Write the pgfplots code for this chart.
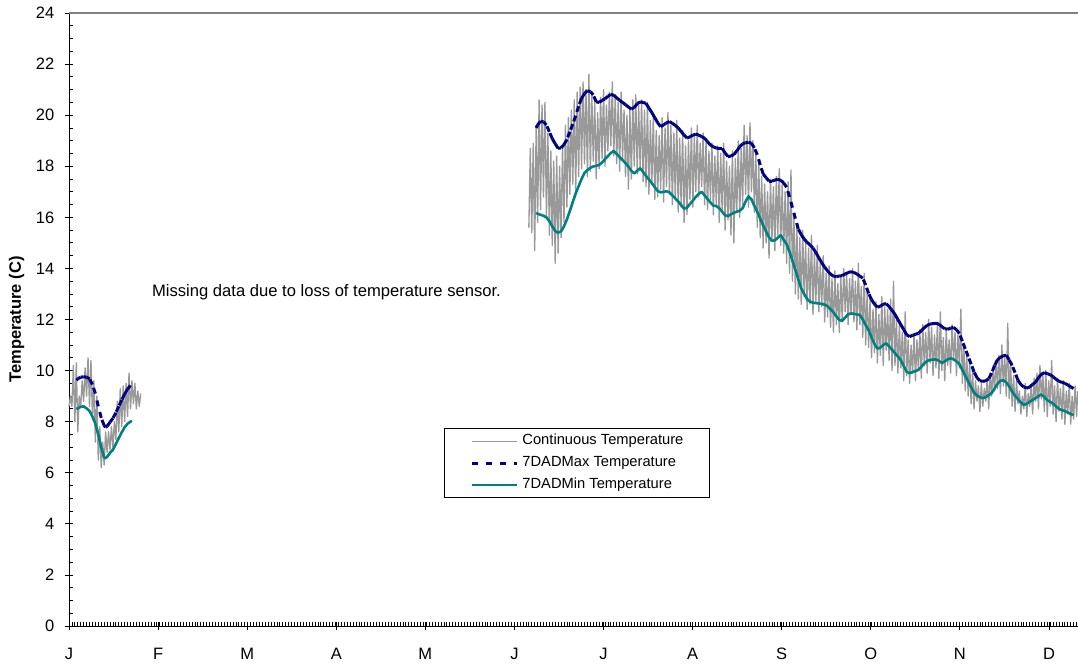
\documentclass[border=0pt]{standalone}
\usepackage{pgfplots}
\usepackage{pgfplotstable}
\pgfplotsset{compat=1.18}
\usepackage{fontspec}
\setmainfont{Liberation Sans}
\definecolor{grayc}{RGB}{153,153,153}
\definecolor{navyc}{RGB}{0,0,128}
\definecolor{tealc}{RGB}{0,128,128}
\definecolor{borderc}{RGB}{128,128,128}

\newcommand{\segcols}[1]{%
  \pgfplotstablecreatecol[create col/assign/.code={%
    \ifnum\pgfplotstablerow=0 \def\entry{0}%
    \else\getprevrow{x}{\pa}\getthisrow{x}{\pb}\pgfmathsetmacro\entry{\pa-\pb}\fi
    \pgfkeyslet{/pgfplots/table/create col/next content}\entry}]{u}{#1}%
  \pgfplotstablecreatecol[create col/assign/.code={%
    \ifnum\pgfplotstablerow=0 \def\entry{0}%
    \else\getprevrow{y}{\pa}\getthisrow{y}{\pb}\pgfmathsetmacro\entry{\pa-\pb}\fi
    \pgfkeyslet{/pgfplots/table/create col/next content}\entry}]{v}{#1}%
}

\pgfplotstableread{
x y
2.5 9.63
3 9.68
4 9.74
5 9.76
6 9.74
7 9.68
8 9.45
9 9.10
10 8.60
11 8.15
12 7.85
12.5 7.78
13 7.82
14 7.98
15 8.13
16 8.35
17 8.60
18 8.85
19 9.08
20 9.28
21 9.42
}\navyA

\pgfplotstableread{
x y
2.5 8.50
3 8.52
4 8.58
5 8.60
6 8.52
7 8.42
8 8.20
9 7.92
10 7.50
11 7.00
12 6.60
12.5 6.57
13 6.62
14 6.78
15 6.90
16 7.12
17 7.36
18 7.58
19 7.78
20 7.92
21 8.00
21.5 8.03
}\tealA

\pgfplotstableread{
x y
159.5 19.50
160 19.62
161 19.76
162 19.74
163 19.62
164 19.35
165 19.08
166 18.88
167 18.70
168 18.72
169 18.85
170 19.05
171 19.35
172 19.65
173 19.98
174 20.35
175 20.66
176 20.85
177 20.96
178 20.92
179 20.80
180 20.52
181 20.50
182 20.58
183 20.64
184 20.74
185 20.81
186 20.78
187 20.68
188 20.58
189 20.50
190 20.41
191 20.32
192 20.24
193 20.30
194 20.45
195 20.52
196 20.50
197 20.46
198 20.28
199 20.10
200 19.90
201 19.70
202 19.55
203 19.62
204 19.70
205 19.75
206 19.68
207 19.60
208 19.50
209 19.36
210 19.22
211 19.10
212 19.15
213 19.22
214 19.26
215 19.22
216 19.16
217 19.10
218 18.96
219 18.83
220 18.76
221 18.71
222 18.70
223 18.70
224 18.52
225 18.38
226 18.40
227 18.46
228 18.60
229 18.76
230 18.88
231 18.92
232 18.94
233 18.90
234 18.72
235 18.45
236 18.05
237 17.70
238 17.55
239 17.42
240 17.42
241 17.46
242 17.49
243 17.45
244 17.35
245 17.18
246 16.80
247 16.38
248 15.95
249 15.55
250 15.32
251 15.15
252 15.02
253 14.92
254 14.80
255 14.62
256 14.42
257 14.22
258 14.05
259 13.90
260 13.78
261 13.69
262 13.68
263 13.70
264 13.72
265 13.78
266 13.84
267 13.87
268 13.84
269 13.78
270 13.70
271 13.62
272 13.35
273 13.02
274 12.78
275 12.60
276 12.48
277 12.52
278 12.60
279 12.62
280 12.50
281 12.36
282 12.20
283 12.00
284 11.80
285 11.60
286 11.40
287 11.33
288 11.38
289 11.42
290 11.46
291 11.56
292 11.68
293 11.77
294 11.82
295 11.84
296 11.85
297 11.82
298 11.72
299 11.64
300 11.62
301 11.66
302 11.69
303 11.60
304 11.45
305 11.15
306 10.85
307 10.55
308 10.25
309 9.95
310 9.72
311 9.60
312 9.58
313 9.60
314 9.68
315 9.90
316 10.20
317 10.42
318 10.52
319 10.58
320 10.60
321 10.42
322 10.20
323 9.92
324 9.62
325 9.45
326 9.36
327 9.31
328 9.36
329 9.46
330 9.55
331 9.72
332 9.86
333 9.92
334 9.88
335 9.84
336 9.76
337 9.66
338 9.58
339 9.54
340 9.50
341 9.44
342 9.36
343 9.30
}\navyB

\pgfplotstableread{
x y
159.5 16.18
160 16.14
161 16.10
162 16.06
163 16.00
164 15.85
165 15.65
166 15.46
167 15.40
168 15.45
169 15.65
170 15.92
171 16.25
172 16.60
173 16.94
174 17.22
175 17.50
176 17.74
177 17.85
178 17.94
179 17.99
180 18.02
181 18.05
182 18.15
183 18.28
184 18.40
185 18.52
186 18.60
187 18.48
188 18.36
189 18.24
190 18.12
191 17.98
192 17.82
193 17.72
194 17.82
195 17.92
196 17.78
197 17.62
198 17.48
199 17.34
200 17.18
201 17.03
202 16.98
203 17.00
204 17.02
205 16.98
206 16.86
207 16.74
208 16.62
209 16.48
210 16.34
211 16.38
212 16.52
213 16.66
214 16.80
215 16.92
216 17.00
217 16.86
218 16.72
219 16.58
220 16.46
221 16.44
222 16.36
223 16.22
224 16.08
225 16.05
226 16.12
227 16.18
228 16.22
229 16.26
230 16.36
231 16.62
232 16.82
233 16.70
234 16.45
235 16.22
236 15.95
237 15.68
238 15.45
239 15.22
240 15.08
241 15.10
242 15.20
243 15.30
244 15.12
245 14.95
246 14.65
247 14.30
248 13.94
249 13.58
250 13.22
251 13.00
252 12.80
253 12.70
254 12.66
255 12.64
256 12.63
257 12.61
258 12.58
259 12.52
260 12.40
261 12.28
262 12.12
263 11.98
264 11.95
265 12.08
266 12.20
267 12.24
268 12.22
269 12.20
270 12.18
271 12.00
272 11.78
273 11.58
274 11.30
275 11.05
276 10.86
277 10.90
278 11.00
279 11.07
280 10.95
281 10.82
282 10.68
283 10.55
284 10.40
285 10.18
286 9.95
287 9.90
288 9.94
289 9.98
290 10.03
291 10.15
292 10.28
293 10.38
294 10.42
295 10.43
296 10.44
297 10.38
298 10.30
299 10.36
300 10.44
301 10.48
302 10.44
303 10.36
304 10.26
305 10.02
306 9.80
307 9.58
308 9.35
309 9.14
310 9.02
311 8.96
312 8.92
313 8.96
314 9.04
315 9.12
316 9.30
317 9.48
318 9.60
319 9.62
320 9.54
321 9.38
322 9.18
323 9.02
324 8.88
325 8.75
326 8.66
327 8.70
328 8.78
329 8.85
330 8.92
331 9.00
332 9.07
333 8.96
334 8.84
335 8.78
336 8.70
337 8.60
338 8.50
339 8.45
340 8.42
341 8.36
342 8.30
343 8.26
}\tealB

\segcols{\navyA}
\segcols{\navyB}

\pgfplotsset{/pgf/number format/assume math mode=true}

\begin{document}
\begin{tikzpicture}
\useasboundingbox (-69pt,-39pt) rectangle (1009pt,626pt);
\begin{axis}[
  scale only axis, width=1009pt, height=613pt,
  xmin=0, xmax=344.5, ymin=0, ymax=24,
  clip=false,
  axis x line*=bottom, axis y line*=left,
  axis line style={black, line width=0.9pt},
  xtick={0,30.4167,60.8333,91.25,121.6667,152.0833,182.5,212.9167,243.3333,273.75,304.1667,334.5833},
  xticklabels={J,F,M,A,M,J,J,A,S,O,N,D},
  minor xtick={0,1,...,344},
  ytick={0,2,...,24},
  minor y tick num=3,
  tick align=center,
  major tick length=8pt, minor tick length=4pt,
  tick style={black, line width=0.8pt},
  minor x tick style={yshift=2pt},
  minor y tick style={xshift=2pt},
  tick label style={font=\fontsize{16.5}{19}\selectfont},
  xticklabel style={anchor=base, inner sep=0pt, yshift=-29pt},
  yticklabel style={anchor=east, inner sep=0pt, xshift=-10.5pt},
  ylabel={Temperature (C)},
  ylabel style={font=\bfseries\fontsize{16.5}{19}\selectfont, at={(axis description cs:-0.052,0.5)}, anchor=center},
  legend image code/.code={\draw[#1] (0pt,0pt) -- (45pt,0pt);},
  legend cell align=left,
  legend style={at={(0.3717,0.2085)}, anchor=south west, draw=black, line width=0.8pt,
    font=\fontsize{14.7}{17}\selectfont, inner xsep=26pt, inner ysep=5.5pt,
    row sep=7.5pt, column sep=4pt,
    nodes={inner sep=0pt, text height=11pt, text depth=3.5pt}},
]
\addplot[forget plot, grayc, line width=1.35pt, line join=round] table[row sep=\\] {
x y\\
0 8.6\\ 0.5 9.0\\ 1 8.6\\ 1.5 10.2\\ 2 8.0\\ 2.5 10.3\\ 3 7.6\\ 3.5 9.0\\
4 8.6\\ 4.5 9.6\\ 5 8.8\\ 5.5 10.1\\ 6 9.0\\ 6.5 10.5\\ 7 8.6\\ 7.5 10.4\\
8 8.2\\ 8.5 9.6\\ 9 7.2\\ 9.5 9.0\\ 10 6.5\\ 10.5 7.8\\ 11 6.2\\ 11.5 7.2\\
12 6.3\\ 12.5 7.6\\ 13 6.8\\ 13.5 7.6\\ 14 6.9\\ 14.5 7.8\\ 15 7.0\\ 15.5 8.0\\
16 7.3\\ 16.5 8.8\\ 17 7.6\\ 17.5 9.3\\ 18 7.8\\ 18.5 9.4\\ 19 8.0\\ 19.5 9.5\\
20 8.2\\ 20.5 9.9\\ 21 8.5\\ 21.5 9.6\\ 22 8.7\\ 22.5 9.5\\ 23 8.5\\ 23.5 9.2\\
24 8.6\\ 24.5 9.1\\
};
\addplot[forget plot, grayc, line width=1.35pt, line join=round] table[row sep=\\] {
x y\\
157 15.6\\ 157.5 18.7\\ 158 15.4\\ 158.5 18.9\\ 159 14.7\\ 159.5 19.6\\
160 15.8\\ 160.5 20.6\\ 161 16.3\\ 161.5 20.4\\ 162 16.8\\ 162.5 20.5\\
163 16.0\\ 163.5 19.3\\ 164 15.3\\ 164.5 18.6\\ 165 14.9\\ 165.5 18.2\\
166 14.2\\ 166.5 18.4\\ 167 14.6\\ 167.5 18.0\\ 168 15.2\\ 168.5 18.8\\
169 15.8\\ 169.5 19.6\\ 170 16.4\\ 170.5 19.9\\ 171 16.9\\ 171.5 20.2\\
172 17.3\\ 172.5 20.6\\ 173 17.0\\ 173.5 20.9\\ 174 17.6\\ 174.5 21.1\\
175 17.9\\ 175.5 21.3\\ 176 18.1\\ 176.5 21.0\\ 177 17.6\\ 177.5 21.6\\
178 17.8\\ 178.5 20.8\\ 179 18.2\\ 179.5 20.5\\ 180 17.5\\ 180.5 20.1\\
181 17.9\\ 181.5 20.7\\ 182 18.3\\ 182.5 21.0\\ 183 18.0\\ 183.5 20.4\\
184 18.6\\ 184.5 20.9\\ 185 18.8\\ 185.5 21.3\\ 186 18.4\\ 186.5 20.8\\
187 18.1\\ 187.5 20.5\\ 188 17.8\\ 188.5 20.9\\ 189 18.3\\ 189.5 20.2\\
190 17.6\\ 190.5 20.0\\ 191 17.1\\ 191.5 20.3\\ 192 17.5\\ 192.5 20.6\\
193 18.0\\ 193.5 20.8\\ 194 17.7\\ 194.5 20.4\\ 195 17.9\\ 195.5 20.6\\
196 17.4\\ 196.5 20.2\\ 197 17.2\\ 197.5 20.5\\ 198 16.9\\ 198.5 19.8\\
199 17.3\\ 199.5 20.0\\ 200 16.7\\ 200.5 19.4\\ 201 16.8\\ 201.5 19.2\\
202 17.1\\ 202.5 19.9\\ 203 16.6\\ 203.5 19.5\\ 204 17.2\\ 204.5 20.1\\
205 16.9\\ 205.5 19.6\\ 206 16.5\\ 206.5 19.3\\ 207 16.7\\ 207.5 19.8\\
208 16.2\\ 208.5 19.1\\ 209 16.4\\ 209.5 19.4\\ 210 15.8\\ 210.5 18.8\\
211 16.1\\ 211.5 19.0\\ 212 16.7\\ 212.5 19.5\\ 213 16.4\\ 213.5 19.2\\
214 17.0\\ 214.5 19.6\\ 215 16.8\\ 215.5 18.9\\ 216 17.2\\ 216.5 19.3\\
217 16.5\\ 217.5 19.0\\ 218 16.3\\ 218.5 18.6\\ 219 16.7\\ 219.5 18.9\\
220 16.1\\ 220.5 18.4\\ 221 16.5\\ 221.5 18.8\\ 222 15.8\\ 222.5 18.5\\
223 16.2\\ 223.5 18.9\\ 224 15.5\\ 224.5 18.2\\ 225 15.9\\ 225.5 18.0\\
226 15.3\\ 226.5 18.6\\ 227 15.0\\ 227.5 18.3\\ 228 16.2\\ 228.5 19.0\\
229 16.0\\ 229.5 18.7\\ 230 16.5\\ 230.5 19.6\\ 231 16.9\\ 231.5 19.2\\
232 16.4\\ 232.5 19.7\\ 233 17.0\\ 233.5 19.0\\ 234 16.2\\ 234.5 18.5\\
235 15.6\\ 235.5 18.1\\ 236 15.2\\ 236.5 17.6\\ 237 14.8\\ 237.5 17.3\\
238 15.0\\ 238.5 17.0\\ 239 14.4\\ 239.5 17.5\\ 240 15.1\\ 240.5 17.2\\
241 14.7\\ 241.5 17.6\\ 242 15.3\\ 242.5 17.9\\ 243 14.9\\ 243.5 17.3\\
244 14.6\\ 244.5 17.0\\ 245 14.2\\ 245.5 17.4\\ 246 13.8\\ 246.5 17.85\\
247 13.5\\ 247.5 16.0\\ 248 13.0\\ 248.5 15.7\\ 249 12.8\\ 249.5 15.2\\
250 12.6\\ 250.5 15.5\\ 251 12.9\\ 251.5 15.0\\ 252 12.4\\ 252.5 14.8\\
253 12.6\\ 253.5 15.3\\ 254 12.2\\ 254.5 14.6\\ 255 12.7\\ 255.5 14.9\\
256 12.3\\ 256.5 14.2\\ 257 12.5\\ 257.5 14.5\\ 258 11.9\\ 258.5 13.8\\
259 12.1\\ 259.5 14.1\\ 260 11.7\\ 260.5 13.6\\ 261 11.5\\ 261.5 13.9\\
262 11.8\\ 262.5 13.4\\ 263 11.5\\ 263.5 13.7\\ 264 11.9\\ 264.5 14.0\\
265 12.3\\ 265.5 13.8\\ 266 11.8\\ 266.5 13.6\\ 267 12.2\\ 267.5 14.0\\
268 11.9\\ 268.5 13.5\\ 269 11.6\\ 269.5 14.2\\ 270 11.8\\ 270.5 13.3\\
271 11.3\\ 271.5 13.8\\ 272 11.0\\ 272.5 13.1\\ 273 10.9\\ 273.5 12.8\\
274 10.5\\ 274.5 12.4\\ 275 10.7\\ 275.5 12.7\\ 276 10.3\\ 276.5 12.2\\
277 10.6\\ 277.5 12.9\\ 278 10.2\\ 278.5 12.5\\ 279 10.8\\ 279.5 12.4\\
280 10.4\\ 280.5 12.8\\ 281 10.0\\ 281.5 13.5\\ 282 10.2\\ 282.5 12.0\\
283 9.9\\ 283.5 11.8\\ 284 10.1\\ 284.5 11.5\\ 285 9.6\\ 285.5 12.3\\
286 9.8\\ 286.5 11.2\\ 287 9.5\\ 287.5 11.0\\ 288 9.9\\ 288.5 11.4\\
289 9.6\\ 289.5 11.2\\ 290 10.0\\ 290.5 11.6\\ 291 9.7\\ 291.5 11.8\\
292 10.2\\ 292.5 11.5\\ 293 9.9\\ 293.5 12.0\\ 294 10.3\\ 294.5 11.7\\
295 9.8\\ 295.5 11.4\\ 296 10.1\\ 296.5 11.9\\ 297 9.7\\ 297.5 12.3\\
298 10.0\\ 298.5 11.3\\ 299 9.6\\ 299.5 11.6\\ 300 10.2\\ 300.5 11.2\\
301 9.9\\ 301.5 11.8\\ 302 10.4\\ 302.5 11.5\\ 303 9.8\\ 303.5 11.4\\
304 10.1\\ 304.5 12.4\\ 305 9.5\\ 305.5 11.0\\ 306 9.2\\ 306.5 10.6\\
307 9.0\\ 307.5 10.3\\ 308 8.7\\ 308.5 10.0\\ 309 8.5\\ 309.5 9.6\\
310 8.8\\ 310.5 9.4\\ 311 8.4\\ 311.5 9.5\\ 312 8.6\\ 312.5 9.3\\
313 8.8\\ 313.5 9.7\\ 314 8.5\\ 314.5 9.9\\ 315 9.0\\ 315.5 10.1\\
316 9.2\\ 316.5 10.4\\ 317 9.3\\ 317.5 10.6\\ 318 9.1\\ 318.5 11.0\\
319 9.4\\ 319.5 10.5\\ 320 9.0\\ 320.5 11.85\\ 321 8.9\\ 321.5 10.2\\
322 8.6\\ 322.5 9.8\\ 323 8.4\\ 323.5 9.6\\ 324 8.7\\ 324.5 9.2\\
325 8.3\\ 325.5 9.0\\ 326 8.5\\ 326.5 9.5\\ 327 8.2\\ 327.5 9.1\\
328 8.6\\ 328.5 9.4\\ 329 8.3\\ 329.5 9.7\\ 330 8.8\\ 330.5 9.9\\
331 8.5\\ 331.5 10.2\\ 332 8.9\\ 332.5 9.8\\ 333 8.4\\ 333.5 10.0\\
334 8.2\\ 334.5 9.6\\ 335 8.6\\ 335.5 10.4\\ 336 8.3\\ 336.5 9.4\\
337 8.0\\ 337.5 9.7\\ 338 8.4\\ 338.5 9.3\\ 339 8.1\\ 339.5 9.6\\
340 7.9\\ 340.5 9.2\\ 341 8.3\\ 341.5 9.5\\ 342 7.9\\ 342.5 9.0\\
343 8.1\\ 343.5 9.4\\ 344 8.2\\ 344.4 9.2\\
};
\addplot[forget plot, navyc, line width=3pt, dash pattern=on 6pt off 8pt,
  quiver={u=\thisrow{u}, v=\thisrow{v}}] table {\navyA};
\addplot[forget plot, navyc, line width=3pt, dash pattern=on 6pt off 8pt,
  quiver={u=\thisrow{u}, v=\thisrow{v}}] table {\navyB};
\addplot[forget plot, tealc, line width=2.6pt, line join=round] table {\tealA};
\addplot[forget plot, tealc, line width=2.6pt, line join=round] table {\tealB};
\draw[borderc, line width=1.3pt] (rel axis cs:0,1) -- (rel axis cs:1,1);
\node[anchor=base west, inner sep=0pt, font=\fontsize{16.6}{19}\selectfont] at (axis cs:28.3,12.89) {Missing data due to loss of temperature sensor.};
\addlegendimage{grayc, line width=1pt}
\addlegendentry{Continuous Temperature}
\addlegendimage{navyc, line width=3pt, dash pattern=on 6pt off 8pt}
\addlegendentry{7DADMax Temperature}
\addlegendimage{tealc, line width=2.6pt}
\addlegendentry{7DADMin Temperature}
\end{axis}
\end{tikzpicture}
\end{document}
